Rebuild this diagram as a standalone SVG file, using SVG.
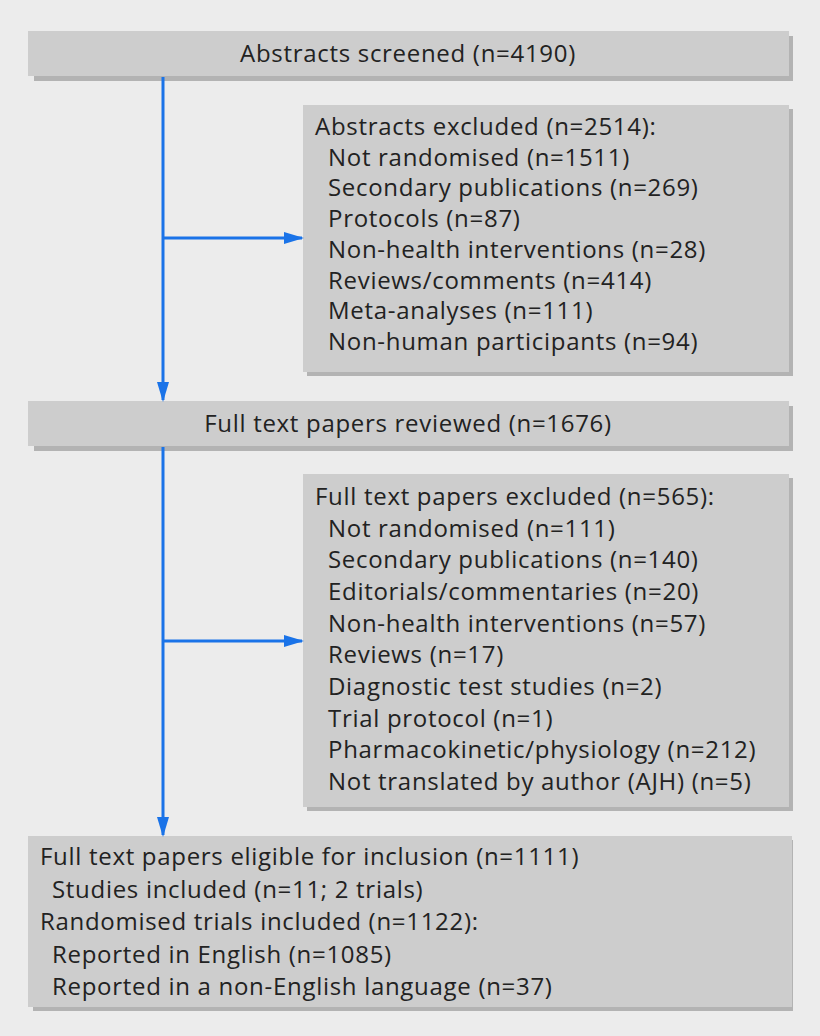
<svg xmlns="http://www.w3.org/2000/svg" width="820" height="1036" viewBox="0 0 820 1036">
<defs>
<style>
.bx{fill:#cdcdcd}
.sh{fill:#b3b3b3}
text{font-family:"Open Sans","Liberation Sans",sans-serif;font-size:24px;letter-spacing:0.7px;fill:#222}
.c{text-anchor:middle}
.ln{stroke:#1a73e8;stroke-width:3;fill:none}
</style>
<marker id="ah" markerWidth="20" markerHeight="12" refX="18" refY="6" orient="auto" markerUnits="userSpaceOnUse"><path d="M0,0 L20,6 L0,12 Z" fill="#1a73e8"/></marker>
</defs>
<rect width="820" height="1036" fill="#ececec"/>
<g id="n1"><rect class="sh" x="34" y="36" width="759" height="45"/><rect class="bx" x="28" y="31" width="761" height="45"/><text class="c" x="408" y="62">Abstracts screened (n=4190)</text></g>
<g id="n2"><rect class="sh" x="307" y="109" width="486" height="267"/><rect class="bx" x="303" y="105" width="486" height="267"/>
<text x="315" y="135">Abstracts excluded (n=2514):</text>
<text x="328" y="166">Not randomised (n=1511)</text>
<text x="328" y="196">Secondary publications (n=269)</text>
<text x="328" y="227">Protocols (n=87)</text>
<text x="328" y="258">Non-health interventions (n=28)</text>
<text x="328" y="289">Reviews/comments (n=414)</text>
<text x="328" y="319">Meta-analyses (n=111)</text>
<text x="328" y="350">Non-human participants (n=94)</text></g>
<g id="n3"><rect class="sh" x="34" y="406" width="759" height="45"/><rect class="bx" x="28" y="401" width="761" height="45"/><text class="c" x="408" y="432">Full text papers reviewed (n=1676)</text></g>
<g id="n4"><rect class="sh" x="307" y="478" width="486" height="333"/><rect class="bx" x="303" y="474" width="486" height="333"/>
<text x="315" y="505">Full text papers excluded (n=565):</text>
<text x="328" y="537">Not randomised (n=111)</text>
<text x="328" y="568">Secondary publications (n=140)</text>
<text x="328" y="600">Editorials/commentaries (n=20)</text>
<text x="328" y="632">Non-health interventions (n=57)</text>
<text x="328" y="663">Reviews (n=17)</text>
<text x="328" y="695">Diagnostic test studies (n=2)</text>
<text x="328" y="727">Trial protocol (n=1)</text>
<text x="328" y="758">Pharmacokinetic/physiology (n=212)</text>
<text x="328" y="790">Not translated by author (AJH) (n=5)</text></g>
<g id="n5"><rect class="sh" x="33" y="840" width="760" height="171"/><rect class="bx" x="28" y="836" width="764" height="171"/>
<text x="40" y="865">Full text papers eligible for inclusion (n=1111)</text>
<text x="52" y="898">Studies included (n=11; 2 trials)</text>
<text x="40" y="930">Randomised trials included (n=1122):</text>
<text x="52" y="963">Reported in English (n=1085)</text>
<text x="52" y="995">Reported in a non-English language (n=37)</text></g>
<g id="connectors">
<path class="ln" d="M163,77 V400" marker-end="url(#ah)"/>
<path class="ln" d="M163,238 H302" marker-end="url(#ah)"/>
<path class="ln" d="M163,447 V835" marker-end="url(#ah)"/>
<path class="ln" d="M163,641 H302" marker-end="url(#ah)"/>
</g>
</svg>
